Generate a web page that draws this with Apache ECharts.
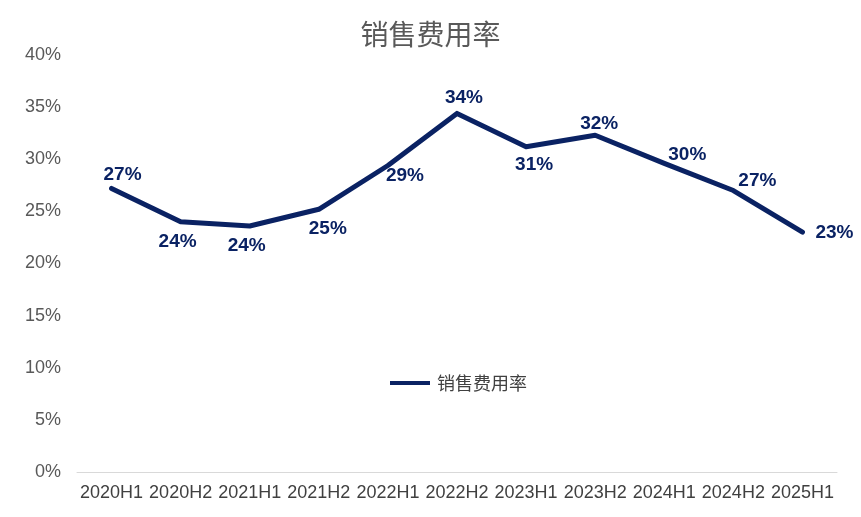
<!DOCTYPE html>
<html><head><meta charset="utf-8">
<script src="https://cdn.jsdelivr.net/npm/echarts@6/dist/echarts.min.js"></script>
<style>html,body{margin:0;padding:0;background:#fff}#c{width:861px;height:517px}</style>
</head><body><div id="c"></div>
<script>
const categories = ['2020H1','2020H2','2021H1','2021H2','2022H1','2022H2','2023H1','2023H2','2024H1','2024H2','2025H1'];
const sellingExpenseRate = [27.2, 24.0, 23.6, 25.2, 29.4, 34.4, 31.2, 32.3, 29.6, 27.0, 23.0];
const seriesName = '销售费用率';
const labelOffsets = [[11,-14],[-3,20],[-3,20],[9,19],[17,10],[7,-16],[8,18],[4,-12],[23,-9],[24,-10],[32,1]];
const NAVY = '#0a2263';
const chart = echarts.init(document.getElementById('c'));
chart.setOption({
  animation: false,
  title: { text: '销售费用率', left: 'center', top: 20, padding: 0,
    textStyle: { fontFamily: '"Noto Sans CJK SC", sans-serif', fontSize: 28, fontWeight: 'normal', color: '#595959' } },
  grid: { left: 77, right: 24, top: 55, bottom: 45 },
  legend: { data: [seriesName], left: 390, top: 374, padding: 0, icon: 'rect', itemWidth: 40, itemHeight: 4, itemGap: 6,
    textStyle: { fontFamily: '"Noto Sans CJK SC", sans-serif', fontSize: 18, color: '#404040', padding: [0,0,0,2] } },
  xAxis: { type: 'category', data: categories, boundaryGap: true,
    axisLine: { lineStyle: { color: '#d9d9d9', width: 1 } }, axisTick: { show: false },
    axisLabel: { fontFamily: '"Liberation Sans", Arial, sans-serif', fontSize: 18, color: '#404040', margin: 12, interval: 0 } },
  yAxis: { type: 'value', min: 0, max: 40, interval: 5,
    axisLine: { show: false }, axisTick: { show: false }, splitLine: { show: false },
    axisLabel: { formatter: '{value}%', fontFamily: '"Liberation Sans", Arial, sans-serif', fontSize: 18, color: '#595959', margin: 16 } },
  series: [{
    name: seriesName, type: 'line', data: sellingExpenseRate.map((v, i) => ({
      value: v, label: { offset: labelOffsets[i] } })),
    symbol: 'circle', symbolSize: 1, showSymbol: true,
    lineStyle: { color: NAVY, width: 5, cap: 'round', join: 'round' },
    itemStyle: { color: NAVY },
    label: { show: true, position: 'inside', formatter: p => Math.round(p.value) + '%',
      fontFamily: '"Liberation Sans", Arial, sans-serif', fontSize: 19, fontWeight: 'bold', color: NAVY }
  }]
});
</script></body></html>
